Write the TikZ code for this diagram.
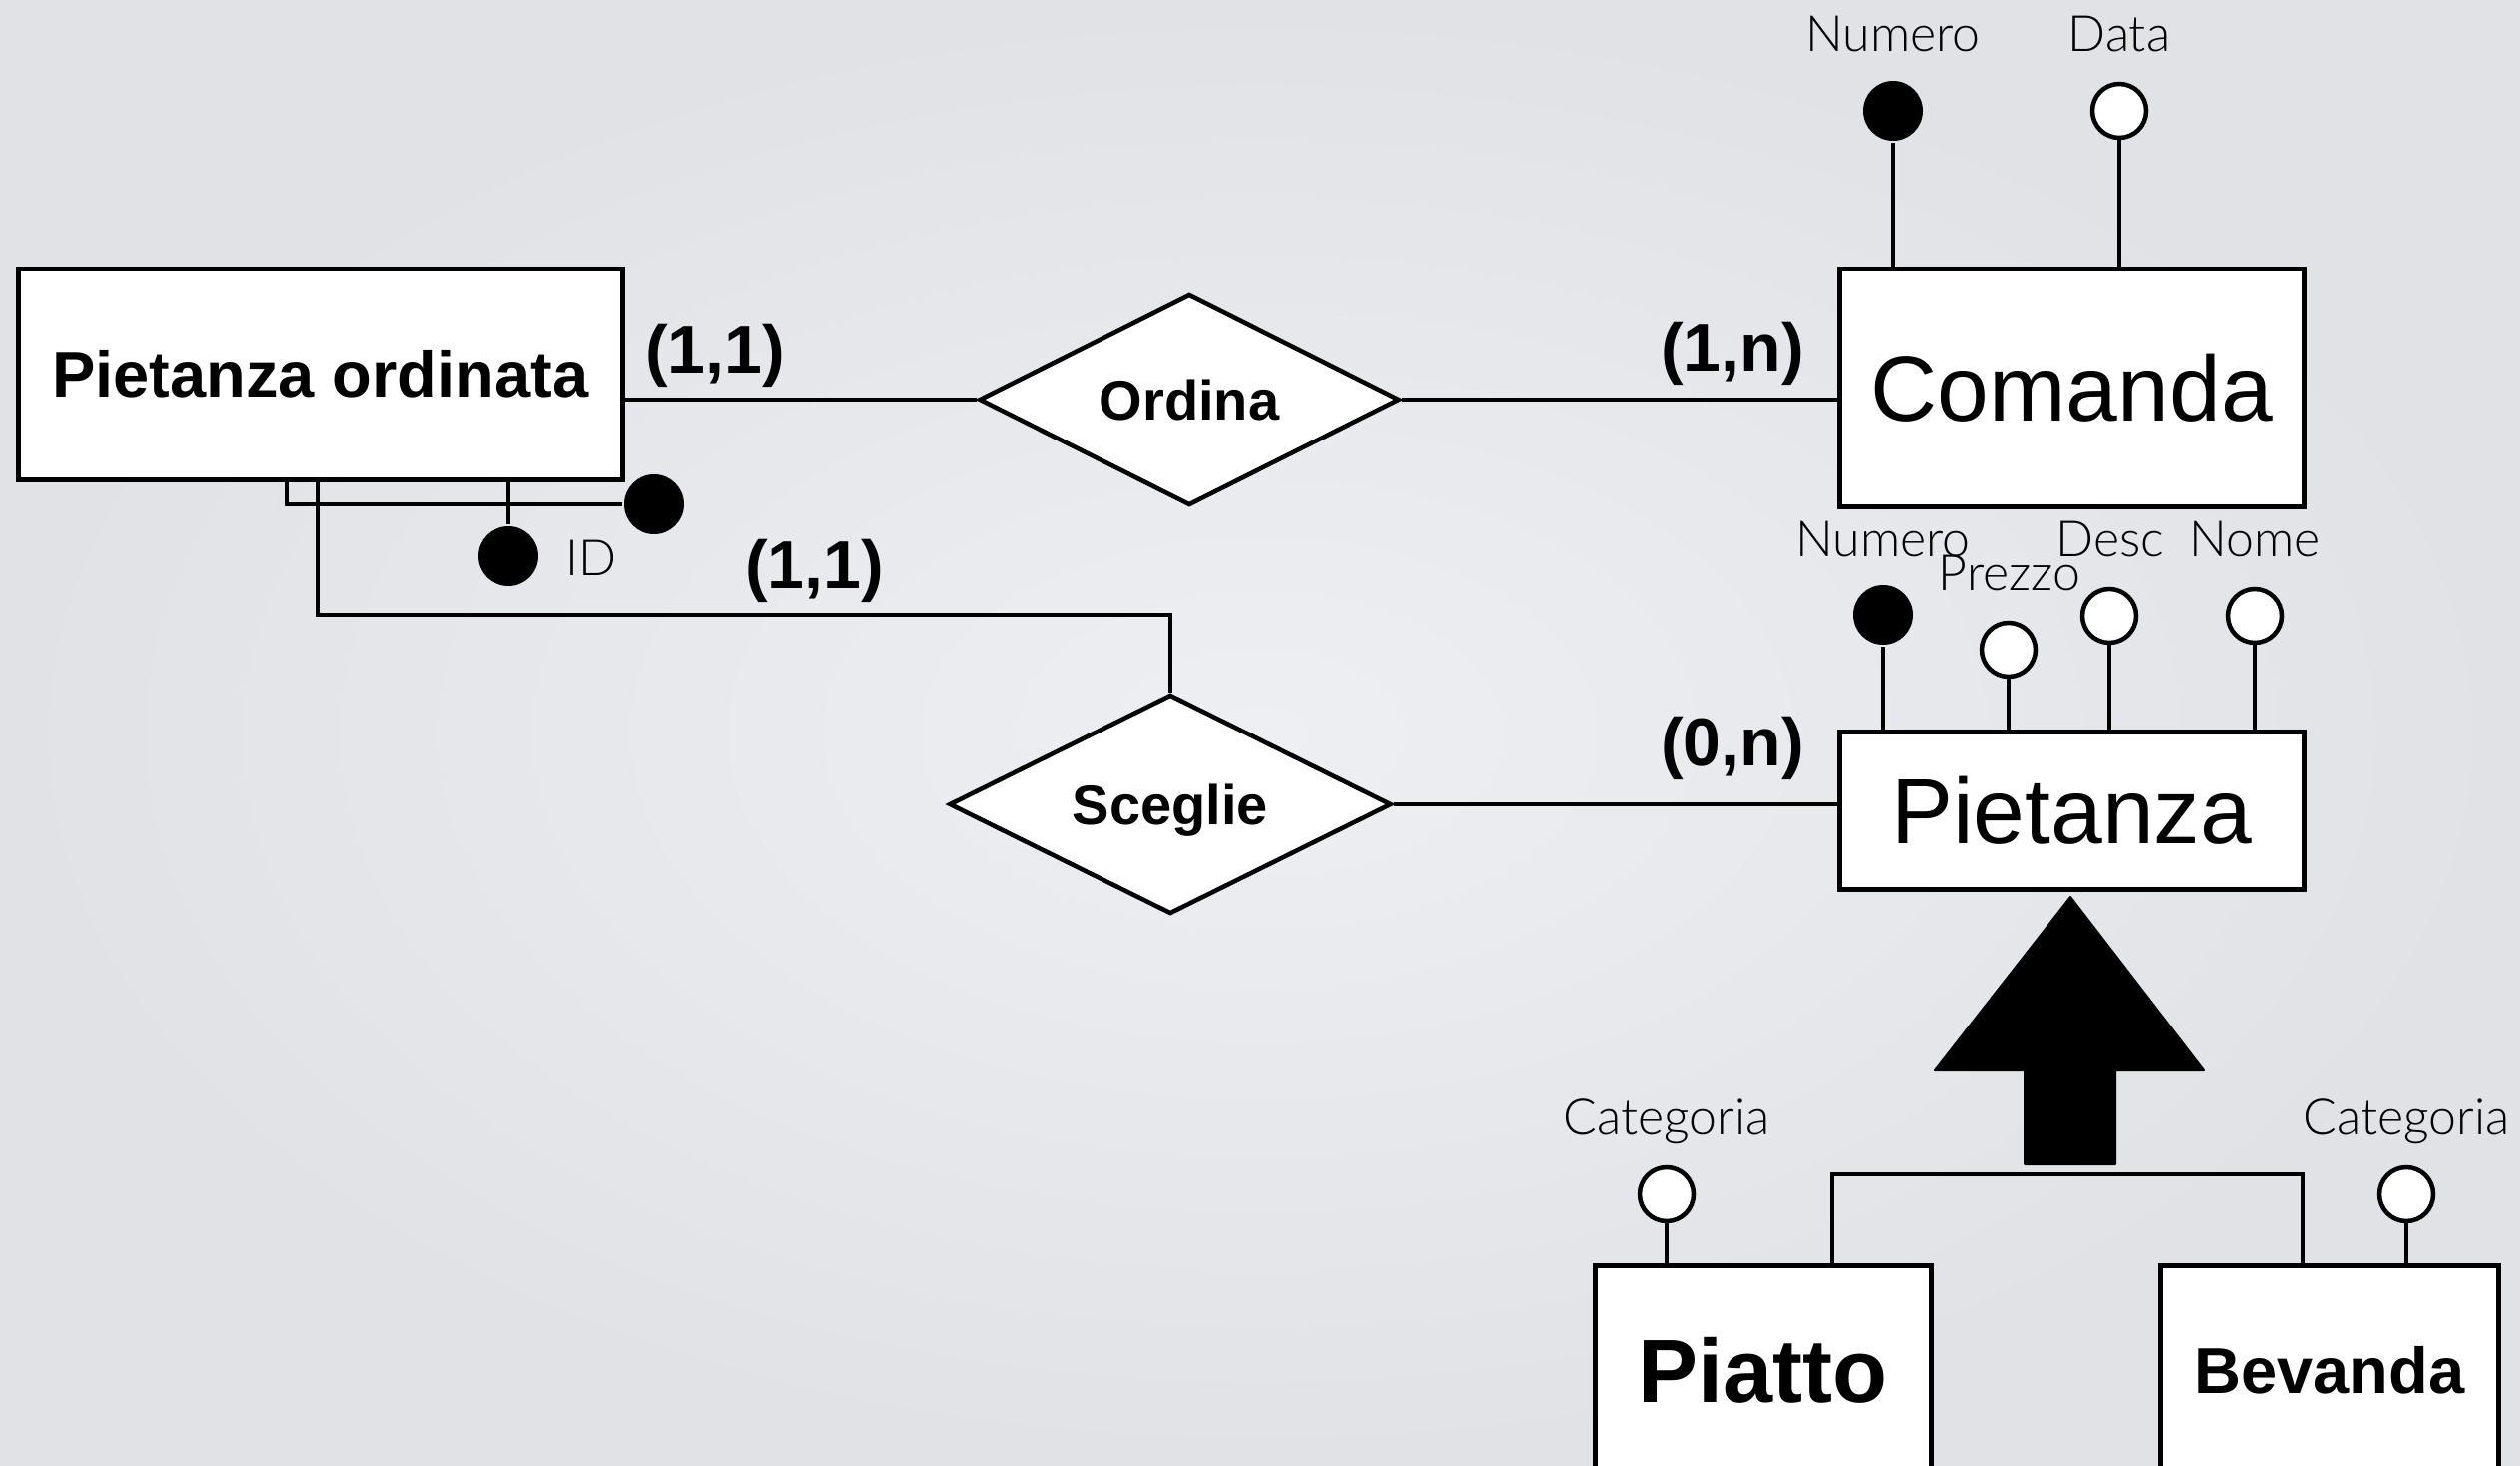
\documentclass[tikz,border=0pt]{standalone}
\usepackage{fontspec}
\setmainfont{Liberation Sans}
\newfontfamily\lightfont{Lato Light}
\usetikzlibrary{shapes.geometric}

\definecolor{bgin}{RGB}{238,239,242}
\definecolor{bgout}{RGB}{224,226,230}

\newcommand{\fsz}[1]{\fontsize{#1}{#1}\selectfont}

\begin{document}
\begin{tikzpicture}[x=1pt,y=-1pt,line width=4.5pt,
  entity/.style={draw, fill=white, inner sep=0pt, anchor=north west},
  relation/.style={draw, fill=white, diamond, inner sep=0pt, text depth=0pt,
    font=\fsz{56}\bfseries},
  keyattr/.style={circle, fill=black, inner sep=0pt, minimum size=60pt},
  attr/.style={circle, draw, fill=white, inner sep=0pt, minimum size=54pt},
  lbl/.style={anchor=base, inner sep=0pt, font=\lightfont\fsz{50}},
  card/.style={anchor=base, inner sep=0pt, font=\fsz{68}\bfseries},
  link/.style={line cap=butt, line join=miter}]

% page background
\useasboundingbox (0,0) rectangle (2528,1471);
\shade[inner color=bgin, outer color=bgout] (0,0) rectangle (2528,1471);
\clip (0,0) rectangle (2528,1471);

% entities
\node[entity, minimum width=606pt, minimum height=211pt, font=\fsz{65}\bfseries]
  (po) at (16,268) {Pietanza ordinata};
\node[entity, minimum width=466pt, minimum height=238pt, font=\fsz{93}]
  (comanda) at (1843,268) {Comanda};
\node[entity, minimum width=466pt, minimum height=158pt, font=\fsz{93}]
  (pietanza) at (1843,732) {Pietanza};
\node[entity, minimum width=337pt, minimum height=212pt, font=\fsz{90}\bfseries]
  (piatto) at (1598,1267) {Piatto};
\node[entity, minimum width=339pt, minimum height=212pt, font=\fsz{65}\bfseries]
  (bevanda) at (2165,1267) {Bevanda};

% relationships
\node[relation, aspect=1.99, minimum width=421pt, minimum height=212pt] (ordina) at (1193,401) {Ordina};
\node[relation, aspect=2.01, minimum width=443pt, minimum height=220pt] (sceglie) at (1174,807) {Sceglie};

% relationship links
\draw[link] (po.east |- ordina.west) -- (ordina.west);
\draw[link] (ordina.east) -- (ordina.east -| comanda.west);
\draw[link] (sceglie.east) -- (sceglie.east -| pietanza.west);
\coordinate (bendA) at (319,617);
\draw[link] (bendA |- po.south) -- (bendA) -| (sceglie.north);

% cardinalities
\node[card] (c1) at (717,374) {(1,1)};
\node[card] (c2) at (1738,373) {(1,n)};
\node[card] (c3) at (817,590) {(1,1)};
\node[card] (c4) at (1738,768) {(0,n)};

% identifier of Pietanza ordinata
\node[keyattr] (idext) at (656,506) {};
\node[keyattr] (idint) at (510,558) {};
\coordinate (idA) at (288,506);
\draw[link] (idA |- po.south) -- (idA) -- (idext.west);
\draw[link] (idint.north) -- (idint.north |- po.south);
\node[lbl] (tid) at (593,577) {ID};

% attributes of Comanda
\node[keyattr] (cnum) at (1899,111) {};
\node[attr] (cdata) at (2126,111) {};
\draw[link] (cnum.south) -- (cnum.south |- comanda.north);
\draw[link] (cdata.south) -- (cdata.south |- comanda.north);
\node[lbl] (tcnum) at (1899,52) {Numero};
\node[lbl] (tcdata) at (2126,52) {Data};

% attributes of Pietanza
\node[keyattr] (pnum) at (1889,617) {};
\node[attr] (pprez) at (2015,652) {};
\node[attr] (pdesc) at (2116,618) {};
\node[attr] (pnome) at (2262,618) {};
\foreach \a in {pnum,pprez,pdesc,pnome}
  \draw[link] (\a.south) -- (\a.south |- pietanza.north);
\node[lbl] (tpnum) at (1889,558) {Numero};
\node[lbl] (tpprez) at (2016,592) {Prezzo};
\node[lbl] (tpdesc) at (2117,558) {Desc};
\node[lbl] (tpnome) at (2262,558) {Nome};

% attributes of the children
\node[attr] (pcat) at (1672,1198) {};
\node[attr] (bcat) at (2414,1198) {};
\draw[link] (pcat.south) -- (pcat.south |- piatto.north);
\draw[link] (bcat.south) -- (bcat.south |- bevanda.north);
\node[lbl] (tpcat) at (1672,1138) {Categoria};
\node[lbl] (tbcat) at (2414,1138) {Categoria};

% generalization
\filldraw[line width=2pt, line join=round]
  (2077,900) -- (2211,1074) -- (2122,1074) -- (2122,1168)
  -- (2031,1168) -- (2031,1074) -- (1941,1074) -- cycle;
\coordinate (gL) at (1838,1178);
\coordinate (gR) at (2310,1178);
\draw[link] (gL |- piatto.north) -- (gL) -- (gR) -- (gR |- bevanda.north);

\end{tikzpicture}
\end{document}
